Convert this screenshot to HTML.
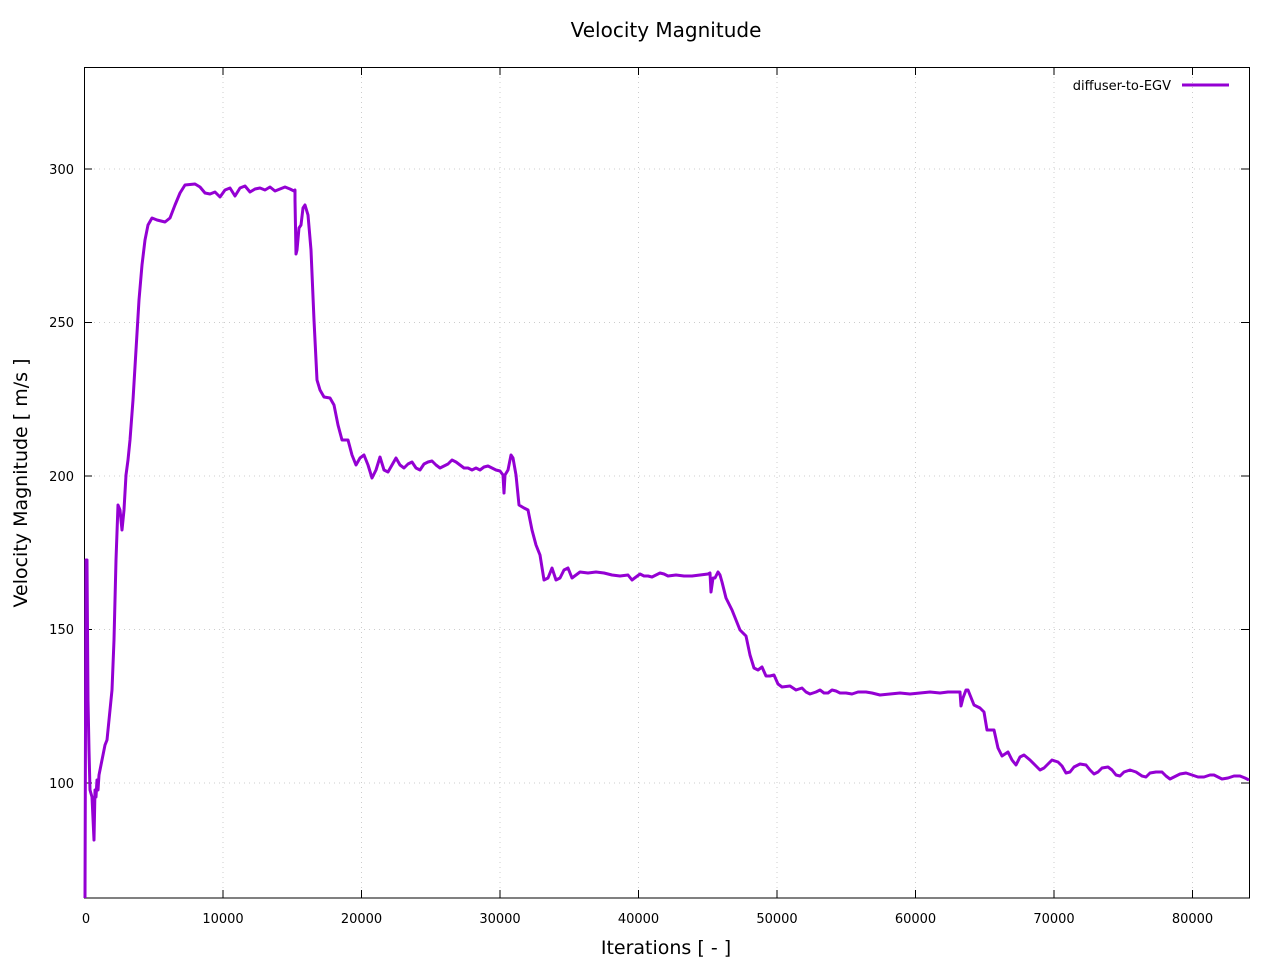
<!DOCTYPE html>
<html><head><meta charset="utf-8"><style>body{margin:0;background:#fff}</style></head><body>
<svg width="1280" height="960" xmlns="http://www.w3.org/2000/svg" font-family="DejaVu Sans, Liberation Sans, sans-serif">
<rect width="1280" height="960" fill="#fff"/>
<g stroke="#ccc" stroke-width="1" stroke-dasharray="1,4">
<line x1="223" y1="67" x2="223" y2="898"/><line x1="361.5" y1="67" x2="361.5" y2="898"/><line x1="500" y1="67" x2="500" y2="898"/><line x1="638.5" y1="67" x2="638.5" y2="898"/><line x1="777" y1="67" x2="777" y2="898"/><line x1="915.5" y1="67" x2="915.5" y2="898"/><line x1="1054" y1="67" x2="1054" y2="898"/><line x1="1192.5" y1="67" x2="1192.5" y2="898"/>
<line x1="84" y1="169" x2="1249" y2="169"/><line x1="84" y1="322.5" x2="1249" y2="322.5"/><line x1="84" y1="476" x2="1249" y2="476"/><line x1="84" y1="629.5" x2="1249" y2="629.5"/><line x1="84" y1="783" x2="1249" y2="783"/>
</g>
<g stroke="#000" stroke-width="1">
<path d="M84.5 898V67.5H1249.5V898Z" fill="none"/>
<path d="M223 898v-8M361.5 898v-8M500 898v-8M638.5 898v-8M777 898v-8M915.5 898v-8M1054 898v-8M1192.5 898v-8M223 67v8M361.5 67v8M500 67v8M638.5 67v8M777 67v8M915.5 67v8M1054 67v8M1192.5 67v8M84 169h8M84 322.5h8M84 476h8M84 629.5h8M84 783h8M1249 169h-8M1249 322.5h-8M1249 476h-8M1249 629.5h-8M1249 783h-8"/>
</g>
<g font-size="13" fill="#000" text-anchor="middle">
<text x="86" y="923">0</text><text x="223" y="923">10000</text><text x="361.5" y="923">20000</text><text x="500" y="923">30000</text><text x="638.5" y="923">40000</text><text x="777" y="923">50000</text><text x="915.5" y="923">60000</text><text x="1054" y="923">70000</text><text x="1192.5" y="923">80000</text>
</g>
<g font-size="13" fill="#000" text-anchor="end">
<text x="74" y="174">300</text><text x="74" y="327">250</text><text x="74" y="481">200</text><text x="74" y="634">150</text><text x="74" y="788">100</text>
</g>
<text x="666" y="37" font-size="20" text-anchor="middle">Velocity Magnitude</text>
<text x="666" y="954" font-size="19" text-anchor="middle">Iterations [ - ]</text>
<text transform="translate(27,483) rotate(-90)" font-size="19" text-anchor="middle">Velocity Magnitude [ m/s ]</text>
<text x="1171" y="90" font-size="13" text-anchor="end">diffuser-to-EGV</text>
<line x1="1182" y1="85" x2="1229" y2="85" stroke="#9400d3" stroke-width="3"/>
<polyline fill="none" stroke="#9400d3" stroke-width="3" stroke-linejoin="round" points="85,898 86,560 87,560 88,700 89,750 90,790 92,797 94,840 95,790 96,797 97,780 98,790 99,775 101,765 103,755 105,745 107,740 110,710 112,690 114,640 116,560 118,505 120,510 122,530 124,510 126,475 128,460 130,440 133,400 136,350 139,300 142,265 145,240 148,225 152,218 157,220 165,222 170,218 175,205 180,193 185,185 195,184 200,187 205,193 210,194 215,192 220,197 225,190 230,188 235,196 240,188 245,186 250,192 255,189 260,188 265,190 270,187 275,191 280,189 285,187 290,189 294,191 295,190 295,200 296,254 297,250 299,228 301,225 303,208 305,205 308,215 311,250 314,320 317,380 320,390 324,397 330,398 334,405 338,425 342,440 348,440 352,455 356,465 360,458 364,455 368,465 372,478 376,470 380,457 384,470 388,472 392,465 396,458 400,465 404,468 408,464 412,462 416,468 420,470 424,464 428,462 432,461 436,465 440,468 444,466 448,464 452,460 456,462 460,465 464,468 468,468 472,470 476,468 480,470 484,467 488,466 492,468 496,470 500,471 503,475 504,493 505,475 508,470 511,455 513,458 516,475 519,505 524,508 528,510 532,530 536,545 540,555 544,580 548,578 552,568 556,580 560,578 564,570 568,568 572,578 576,575 580,572 588,573 596,572 604,573 612,575 620,576 628,575 632,580 636,577 640,574 644,576 648,576 652,577 656,575 660,573 664,574 668,576 676,575 684,576 692,576 700,575 708,574 710,573 711,592 713,578 715,578 718,572 720,575 722,582 726,598 732,610 736,620 740,630 746,636 750,655 754,668 758,670 762,667 766,676 770,676 774,675 778,684 782,687 790,686 796,690 802,688 806,692 810,694 816,692 820,690 824,693 828,693 832,690 836,691 840,693 846,693 852,694 858,692 866,692 872,693 880,695 890,694 900,693 910,694 920,693 930,692 940,693 948,692 955,692 960,692 961,706 963,698 966,690 968,690 970,695 974,705 980,708 984,712 987,730 994,730 998,748 1002,756 1008,752 1012,760 1016,765 1020,757 1024,755 1030,760 1036,766 1040,770 1044,768 1048,764 1052,760 1058,762 1062,766 1066,773 1070,772 1074,767 1080,764 1086,765 1090,770 1094,774 1098,772 1102,768 1108,767 1112,770 1116,775 1120,776 1124,772 1130,770 1136,772 1142,776 1146,777 1150,773 1156,772 1162,772 1166,776 1170,779 1174,777 1180,774 1186,773 1192,775 1198,777 1204,777 1210,775 1214,775 1218,777 1222,779 1228,778 1234,776 1240,776 1245,778 1249,780"/>
</svg>
</body></html>
